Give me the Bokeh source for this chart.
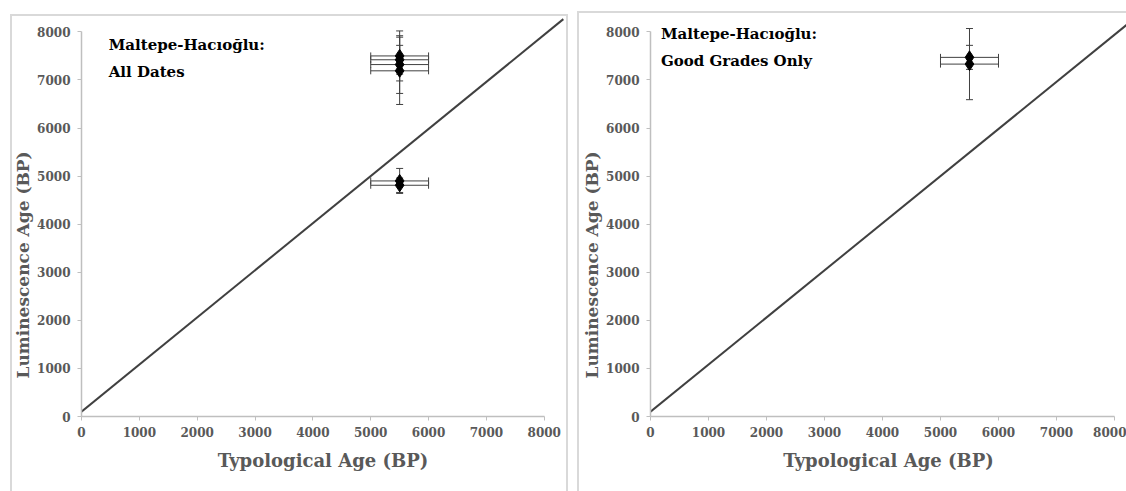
import math
from bokeh.plotting import figure
from bokeh.models import (ColumnDataSource, Whisker, TeeHead, Label, Range1d,
                          FixedTicker, Title)
from bokeh.layouts import row
from bokeh.embed import file_html
from bokeh.resources import INLINE

# ---------------- data ----------------
ticks = [0, 1000, 2000, 3000, 4000, 5000, 6000, 7000, 8000]

# All dates
all_typ = [5500, 5500, 5500, 5500, 5500, 5500]
all_typ_err = [500, 500, 500, 500, 500, 500]
all_lum = [7500, 7420, 7320, 7190, 4900, 4810]
all_lum_err = [520, 300, 600, 700, 260, 150]

# Good grades only
good_typ = [5500, 5500]
good_typ_err = [500, 500]
good_lum = [7470, 7330]
good_lum_err = [250, 740]

# reference line
ref_x = [0, 8330]
ref_y = [100, 8265]

FONT = "DejaVu Serif"
GREY = "#595959"
AXIS = "#bfbfbf"
BAR = "#404040"
EDGE = "#d9d9d9"


def edge_css(lx, ty, rx):
    g = f"linear-gradient({EDGE},{EDGE})"
    parts = [f"{g} {lx}px {ty}px / 2px 100% no-repeat"]
    if rx is not None:
        parts.append(f"{g} {lx}px {ty}px / {rx - lx}px 2px no-repeat")
        parts.append(f"{g} {rx}px {ty}px / 2px 100% no-repeat")
    else:
        parts.append(f"{g} {lx}px {ty}px / 100% 2px no-repeat")
    return ", ".join(parts) + ", white"


def make_panel(title1, title2, xs, xerr, ys, yerr, width, border_left,
               border_right, x_end, title_x, title_y1, title_y2, edges):
    p = figure(width=width, height=491, output_backend="svg",
               toolbar_location=None,
               x_range=Range1d(0, x_end), y_range=Range1d(0, 8320),
               min_border_left=border_left, min_border_right=border_right,
               min_border_top=16, min_border_bottom=75)
    p.outline_line_color = None
    p.xgrid.visible = False
    p.ygrid.visible = False
    p.background_fill_color = "white"
    p.border_fill_color = None
    p.styles = {"background": edge_css(*edges)}

    for ax in (p.xaxis[0], p.yaxis[0]):
        ax.bounds = (0, 8000)
        ax.ticker = FixedTicker(ticks=ticks)
        ax.axis_line_color = AXIS
        ax.axis_line_width = 1.5
        ax.major_tick_line_color = AXIS
        ax.major_tick_out = 4
        ax.major_tick_in = 0
        ax.minor_tick_line_color = None
        ax.major_label_text_font = FONT
        ax.major_label_text_font_style = "bold"
        ax.major_label_text_font_size = "12px"
        ax.major_label_text_color = GREY
    p.xaxis.major_label_standoff = 6
    p.yaxis.major_label_standoff = 7

    p.xaxis.axis_label = "Typological Age (BP)"
    p.xaxis.axis_label_text_font = FONT
    p.xaxis.axis_label_text_font_style = "bold"
    p.xaxis.axis_label_text_font_size = "18px"
    p.xaxis.axis_label_text_color = GREY
    p.xaxis.axis_label_standoff = 10

    p.add_layout(Title(text="Luminescence Age (BP)", align="left", offset=38,
                       text_font=FONT, text_font_style="bold",
                       text_font_size="17px", text_color=GREY,
                       standoff=4), "left")

    # 1:1 line
    p.line(ref_x, ref_y, line_color=BAR, line_width=2)

    lo_x = [a - e for a, e in zip(xs, xerr)]
    hi_x = [a + e for a, e in zip(xs, xerr)]
    lo_y = [a - e for a, e in zip(ys, yerr)]
    hi_y = [a + e for a, e in zip(ys, yerr)]
    src = ColumnDataSource(dict(x=xs, y=ys, lx=lo_x, hx=hi_x, ly=lo_y, hy=hi_y))

    p.add_layout(Whisker(source=src, base="x", lower="ly", upper="hy",
                         dimension="height", line_color=BAR, line_width=1,
                         upper_head=TeeHead(size=7, line_color=BAR, line_width=1),
                         lower_head=TeeHead(size=7, line_color=BAR, line_width=1)))
    p.add_layout(Whisker(source=src, base="y", lower="lx", upper="hx",
                         dimension="width", line_color=BAR, line_width=1,
                         upper_head=TeeHead(size=7, line_color=BAR, line_width=1),
                         lower_head=TeeHead(size=7, line_color=BAR, line_width=1)))
    p.scatter("x", "y", source=src, marker="diamond", size=13,
              fill_color="black", line_color="black")

    for t, yy in ((title1, title_y1), (title2, title_y2)):
        p.add_layout(Label(x=title_x, y=yy, text=t, text_baseline="top",
                           text_align="left", text_font=FONT,
                           text_font_style="bold", text_font_size="15px",
                           text_color="black"))
    return p


p1 = make_panel("Maltepe-Hacıoğlu:", "All Dates", all_typ, all_typ_err,
                all_lum, all_lum_err, width=572, border_left=81,
                border_right=8, x_end=8350, title_x=470,
                title_y1=7917, title_y2=7360, edges=(10, 14, 566))
p2 = make_panel("Maltepe-Hacıoğlu:", "Good Grades Only", good_typ,
                good_typ_err, good_lum, good_lum_err, width=554,
                border_left=78, border_right=0, x_end=8207,
                title_x=180, title_y1=8150, title_y2=7580,
                edges=(5, 11, None))

layout = row(p1, p2)
open("out.html", "w").write(file_html(layout, INLINE))
